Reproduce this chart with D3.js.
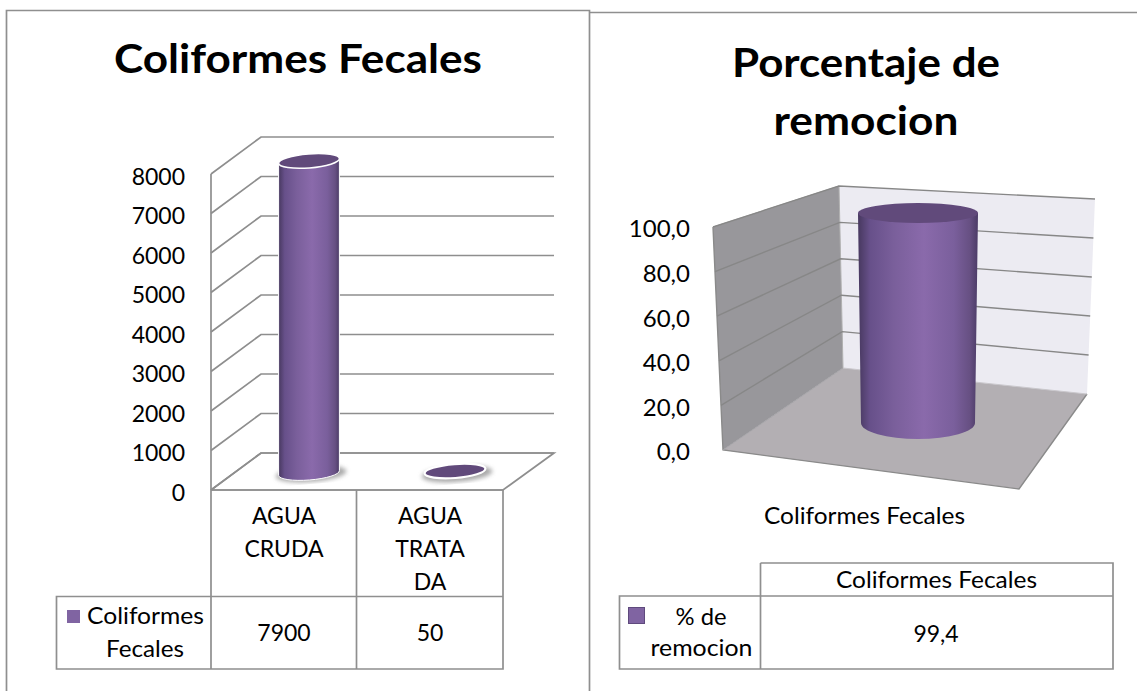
<!DOCTYPE html>
<html><head><meta charset="utf-8">
<script src="https://cdn.jsdelivr.net/npm/d3@7"></script>
<style>html,body{margin:0;background:#fff}svg{display:block}text{font-family:Lato,sans-serif;fill:#000}</style>
</head><body><div id="c"></div>
<script>
const categories = ["AGUA CRUDA", "AGUA TRATADA"];
const categoryLines = [["AGUA","CRUDA"],["AGUA","TRATA","DA"]];
const values = [7900, 50];
const seriesName = ["Coliformes","Fecales"];
const title1 = "Coliformes Fecales";
const ticks1 = [0,1000,2000,3000,4000,5000,6000,7000,8000];
const title2 = ["Porcentaje de","remocion"];
const category2 = "Coliformes Fecales";
const series2 = ["% de","remocion"];
const value2 = [99.4];
const ticks2 = [0,20,40,60,80,100];

const W=1137,H=691;
const GRID="#8e8e8e",TBL="#8f8f8f";
const svg=d3.select("#c").append("svg").attr("width",W).attr("height",H);
const defs=svg.append("defs");
function grad(id,stops){
  const g=defs.append("linearGradient").attr("id",id).attr("x1",0).attr("x2",1).attr("y1",0).attr("y2",0);
  stops.forEach(s=>g.append("stop").attr("offset",s[0]).attr("stop-color",s[1]));
}
const stops=[[0,"#47385f"],[.1,"#67508a"],[.3,"#7a5f9b"],[.55,"#8a6aab"],[.8,"#7a5f9c"],[.93,"#675083"],[1,"#4b3b66"]];
grad("cyl",stops);
defs.append("filter").attr("id","blur").append("feGaussianBlur").attr("stdDeviation",2);
const line=(p,c=GRID,w=1.7)=>svg.append("path").attr("d",d3.line()(p)).attr("fill","none").attr("stroke",c).attr("stroke-width",w);
const txt=(x,y,s,size,a="middle",b,len)=>{
  const t=svg.append("text").attr("x",x).attr("y",y).attr("dy",".35em").attr("text-anchor",a).attr("font-size",size).attr("font-weight",b?700:400).text(s);
  if(len) t.attr("textLength",len).attr("lengthAdjust","spacingAndGlyphs");
  return t;
};
const head=(x,y,s,len)=>txt(x,y,s,40,"middle",true,len).attr("dy",0);

// frames
line([[6.5,691],[6.5,10.5],[589.5,10.5],[589.5,691]],"#8f8f8f",1.7);
line([[589.5,12.5],[1137,12.5]],"#8f8f8f",1.7);

// ---------- left chart ----------
head(298,73,title1,368);
const yF=d3.scaleLinear().domain([0,8000]).range([490,174]);
const yB=d3.scaleLinear().domain([0,8000]).range([453,137]);
const yBar=d3.scaleLinear().domain([0,8000]).range([473,157]);
const xBand=d3.scaleBand().domain(categories).range([211,503]);
const barShift=25, rightX=554;

line([[211,490],[261,yB(0)],[rightX,yB(0)],[503,490],[211,490]]);
ticks1.forEach(t=>line([[211,yF(t)],[261,yB(t)],[rightX,yB(t)]]));
line([[211,yF(8000)],[211,669]]);

const ax1=svg.append("g").attr("transform","translate(192,2)").call(d3.axisLeft(yF).tickValues(ticks1).tickSize(0).tickFormat(d3.format("d")));
ax1.select(".domain").remove();
ax1.selectAll("text").attr("font-size",23).attr("font-family","Lato,sans-serif").attr("fill","#000").attr("x",-7).attr("dy",".35em").attr("dx",0);

const rot=-4.5,rad=rot*Math.PI/180;
values.forEach((v,i)=>{
  const cx=xBand(categories[i])+xBand.bandwidth()/2+barShift;
  const yb=yBar(0), yt=yBar(v), rx=30.5, ry=7;
  const dx=rx*Math.cos(rad), dy=rx*Math.sin(rad);
  svg.append("ellipse").attr("cx",cx+2).attr("cy",yb+1).attr("rx",rx+5).attr("ry",ry+1)
     .attr("transform",`rotate(${rot} ${cx} ${yb})`).attr("fill","#8d8d8d").attr("filter","url(#blur)").attr("opacity",.75);
  if(v>500){
    svg.append("path").attr("d",`M${cx-dx},${yt-dy}L${cx-dx},${yb-dy}A${rx},${ry} ${rot} 0 0 ${cx+dx},${yb+dy}L${cx+dx},${yt+dy}Z`)
      .attr("fill","url(#cyl)").attr("stroke","#fff").attr("stroke-width",1);
  }
  svg.append("ellipse").attr("cx",cx).attr("cy",yt).attr("rx",rx).attr("ry",ry)
     .attr("transform",`rotate(${rot} ${cx} ${yt})`).attr("fill","#614a7b").attr("stroke","#fff").attr("stroke-width",v>500?1.5:2.2);
});

// table 1
line([[211,490],[503,490],[503,669],[56.5,669],[56.5,596.5],[503,596.5]],TBL,1.7);
line([[356.5,490],[356.5,669]],TBL,1.7);
const lineYs=[516,549,582];
categoryLines.forEach((ls,i)=>ls.forEach((s,j)=>txt(xBand(categories[i])+xBand.bandwidth()/2,lineYs[j],s,23)));
svg.append("rect").attr("x",67).attr("y",610).attr("width",13).attr("height",13).attr("fill","#8064a2");
txt(87,616,seriesName[0],23,"start",false,117);
txt(145,649,seriesName[1],23,"middle",false,78);
values.forEach((v,i)=>txt(xBand(categories[i])+xBand.bandwidth()/2,633,String(v),23));

// ---------- right chart ----------
head(866,77,title2[0],268);
head(866,135,title2[1],185);
const yF2=d3.scaleLinear().domain([0,100]).range([450,227]);
const yBL=d3.scaleLinear().domain([0,100]).range([368,186]);
const yBR=d3.scaleLinear().domain([0,100]).range([394,199]);
const xF2=d3.scaleLinear().domain([0,100]).range([723,713]);
const xBL2=d3.scaleLinear().domain([0,100]).range([843,839]);
const xBR2=d3.scaleLinear().domain([0,100]).range([1087,1095]);
const poly=(p,f)=>svg.append("path").attr("d",d3.line()(p)+"Z").attr("fill",f);
poly([[xBL2(0),yBL(0)],[xBL2(100),yBL(100)],[xBR2(100),yBR(100)],[xBR2(0),yBR(0)]],"#ecebf2");
poly([[xF2(0),yF2(0)],[xF2(100),yF2(100)],[xBL2(100),yBL(100)],[xBL2(0),yBL(0)]],"#98979b");
poly([[xF2(0),yF2(0)],[xBL2(0),yBL(0)],[xBR2(0),yBR(0)],[1019,489]],"#b3afb3");
line([[xF2(100),yF2(100)],[xF2(0),yF2(0)],[1019,489],[xBR2(0),yBR(0)]],"#8a8a8a",1.4);
line([[xF2(100),yF2(100)],[xBL2(100),yBL(100)],[xBL2(0),yBL(0)]],"#b0b0b0",1);
ticks2.filter(t=>t>0).forEach(t=>line([[xF2(t),yF2(t)],[xBL2(t),yBL(t)],[xBR2(t),yBR(t)]],"#878787",1.4));
line([[xBL2(0),yBL(0)],[xBR2(0),yBR(0)]],"#c9c7cc",1);
line([[xF2(0),yF2(0)],[xBL2(0),yBL(0)]],"#a5a4a8",1);

const ax2=svg.append("g").attr("transform","translate(693,1.5)").call(d3.axisLeft(yF2).tickValues(ticks2).tickSize(0).tickFormat(d=>d3.format(".1f")(d).replace(".",",")));
ax2.select(".domain").remove();
ax2.selectAll("text").attr("font-size",24).attr("font-family","Lato,sans-serif").attr("fill","#000").attr("x",-3).attr("dy",".35em").attr("dx",0);

const yCyl=d3.scaleLinear().domain([0,100]).range([423,211.7]);
{
  const cx=918,yb=yCyl(0),yt=yCyl(value2[0]);
  svg.append("path").attr("d",`M858,${yt}L861,${yb}A57,16 0 0 0 975,${yb}L978,${yt}Z`).attr("fill","url(#cyl)");
  svg.append("ellipse").attr("cx",cx).attr("cy",yt).attr("rx",60).attr("ry",10).attr("fill","#614a7b");
}
txt(864.5,516,category2,23,"middle",false,201);

// table 2
line([[760.5,563],[1113,563],[1113,669],[619.5,669],[619.5,596],[1113,596]],TBL,1.7);
line([[760.5,563],[760.5,669]],TBL,1.7);
txt(936.5,580,category2,23,"middle",false,201);
svg.append("rect").attr("x",628.5).attr("y",607.5).attr("width",16).attr("height",16).attr("fill","#8064a2").attr("stroke","#5f4a7d");
txt(701,617,series2[0],23,"middle",false,51);
txt(701.5,648,series2[1],23,"middle",false,102);
txt(936,634,String(value2[0]).replace(".",","),23);
</script></body></html>
